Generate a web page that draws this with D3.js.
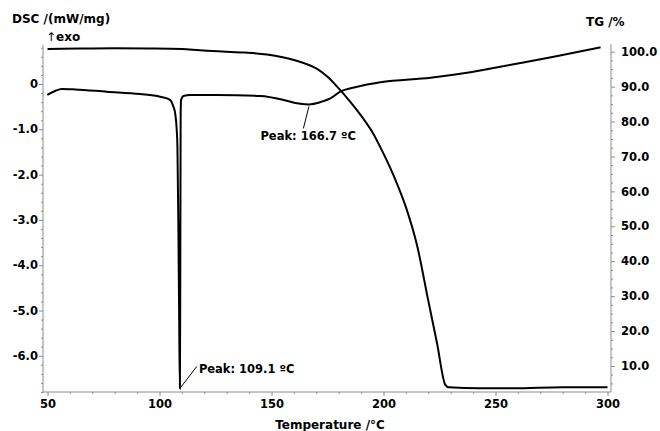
<!DOCTYPE html>
<html>
<head>
<meta charset="utf-8">
<script src="https://cdn.jsdelivr.net/npm/d3@7"></script>
<style>
  body { margin: 0; background: #fff; }
  text { font-family: "DejaVu Sans", Verdana, sans-serif; font-weight: bold; fill: #000; }
</style>
</head>
<body>
<div id="chart"></div>
<script>
// TG curve (temperature in °C, mass in %)
const tgTemp  = [50, 65, 80, 95, 110, 118, 128, 138, 148, 155, 160, 165, 170, 175, 180, 185, 190, 195, 200, 205, 210, 215, 219.9, 223.9, 227.6, 229.1, 243, 258, 280, 300];
const tgValue = [100.8, 100.9, 101.0, 100.95, 100.8, 100.4, 100.05, 99.75, 99.2, 98.4, 97.6, 96.6, 95.2, 92.8, 89.5, 85.8, 81.7, 77.0, 70.8, 63.8, 55.5, 44.5, 29.0, 16.5, 4.6, 3.9, 3.6, 3.6, 3.9, 3.9];

// DSC curve (mW/mg)
const dscTemp  = [49.9, 53.4, 56.3, 62.3, 76.5, 91.3, 100.3, 104.7, 106.2, 107.0, 107.7, 108.0, 108.4, 108.8, 109.1, 109.25, 109.35, 109.45, 109.65, 110.7, 113.7, 118.1, 125.6, 145, 155.4, 160.6, 166.7, 171.8, 176.3, 180.7, 188.2, 198.6, 221, 238.8, 258.1, 276, 296.9];
const dscValue = [-0.24, -0.155, -0.11, -0.12, -0.17, -0.22, -0.28, -0.35, -0.50, -0.65, -1.02, -1.38, -3.0, -5.3, -6.72, -4.8, -2.6, -0.65, -0.35, -0.265, -0.243, -0.243, -0.243, -0.265, -0.353, -0.42, -0.45, -0.40, -0.316, -0.17, -0.06, 0.04, 0.14, 0.26, 0.435, 0.60, 0.81];

const xTicks   = [50, 100, 150, 200, 250, 300];
const dscTicks = [0, -1, -2, -3, -4, -5, -6];
const tgTicks  = [100, 90, 80, 70, 60, 50, 40, 30, 20, 10];

const peakTemps  = [166.7, 109.1];
const peakValues = [-0.45, -6.72];
const peakLabels = ["Peak: 166.7 ºC", "Peak: 109.1 ºC"];

const width = 660, height = 431;
const plotLeft = 43, plotRight = 611, plotTop = 44, plotBottom = 392;

const x = d3.scaleLinear().domain([50, 300]).range([47.5, 607.5]);
const yDsc = d3.scaleLinear().domain([0, -6]).range([84, 355.8]);
const yTg = d3.scaleLinear().domain([10, 100]).range([366, 51.7]);

const svg = d3.select("#chart").append("svg")
    .attr("width", width)
    .attr("height", height);

// axis frame lines
const axisColor = "#8c8c8c";
svg.append("line").attr("x1", plotLeft).attr("x2", plotLeft).attr("y1", plotTop + 1).attr("y2", plotBottom).attr("stroke", axisColor);
svg.append("line").attr("x1", plotRight).attr("x2", plotRight).attr("y1", plotTop).attr("y2", plotBottom).attr("stroke", axisColor);
svg.append("line").attr("x1", plotLeft).attr("x2", plotRight).attr("y1", plotBottom).attr("y2", plotBottom).attr("stroke", axisColor);

function styleAxis(g) {
    g.select(".domain").remove();
    g.selectAll(".tick line").attr("stroke", axisColor);
    g.selectAll(".tick text").style("font-size", "11.5px").attr("fill", "#000");
}

// minor ticks
const dscMinor = d3.range(-34, 5).map(i => i / 5).filter(v => Math.round(v * 5) % 5 !== 0);
const tgMinor = d3.range(2, 41).map(i => i * 2.5).filter(v => v % 10 !== 0 && yTg(v) < plotBottom && yTg(v) > plotTop);
const xMinor = d3.range(50, 301, 10).filter(v => v % 50 !== 0);

svg.append("g").attr("transform", `translate(${plotLeft},0)`)
    .call(d3.axisLeft(yDsc).tickValues(dscMinor).tickSize(2).tickFormat(""))
    .call(styleAxis);
svg.append("g").attr("transform", `translate(${plotLeft},0)`)
    .call(d3.axisLeft(yDsc).tickValues(dscTicks).tickSize(4).tickPadding(1)
        .tickFormat(d => d === 0 ? "0" : d3.format(".1f")(d).replace("−", "-")))
    .call(styleAxis);

svg.append("g").attr("transform", `translate(${plotRight},0)`)
    .call(d3.axisRight(yTg).tickValues(tgMinor).tickSize(2).tickFormat(""))
    .call(styleAxis);
svg.append("g").attr("transform", `translate(${plotRight},0)`)
    .call(d3.axisRight(yTg).tickValues(tgTicks).tickSize(4).tickPadding(6).tickFormat(d3.format(".1f")))
    .call(styleAxis);

svg.append("g").attr("transform", `translate(0,${plotBottom})`)
    .call(d3.axisBottom(x).tickValues(xMinor).tickSize(2).tickFormat(""))
    .call(styleAxis);
svg.append("g").attr("transform", `translate(0,${plotBottom})`)
    .call(d3.axisBottom(x).tickValues(xTicks).tickSize(4).tickPadding(4))
    .call(styleAxis);

// titles
svg.append("text").attr("x", 12).attr("y", 23).style("font-size", "12px").text("DSC /(mW/mg)");
svg.append("text").attr("x", 46).attr("y", 41).style("font-size", "12px")
    .html('<tspan style="font-weight:normal">↑</tspan>exo');
svg.append("text").attr("x", 586).attr("y", 26).style("font-size", "12px").text("TG /%");
svg.append("text").attr("x", 330).attr("y", 429).attr("text-anchor", "middle").style("font-size", "12px").text("Temperature /°C");

// curves
const tgLine = d3.line()
    .x((d, i) => x(tgTemp[i]))
    .y(d => yTg(d))
    .curve(d3.curveMonotoneX);
const dscLine = d3.line()
    .x((d, i) => x(dscTemp[i]))
    .y(d => yDsc(d))
    .curve(d3.curveMonotoneX);

svg.append("path").attr("d", tgLine(tgValue))
    .attr("fill", "none").attr("stroke", "#000").attr("stroke-width", 2);
svg.append("path").attr("d", dscLine(dscValue))
    .attr("fill", "none").attr("stroke", "#000").attr("stroke-width", 2);

// peak annotations
const labelOffsets = [{dx: -5.5, dy: 22, tx: -48.5, ty: 34}, {dx: 17, dy: -22, tx: 19, ty: -15}];
peakTemps.forEach((t, i) => {
    const px = x(t), py = yDsc(peakValues[i]) + (i === 0 ? 2 : 0);
    const o = labelOffsets[i];
    svg.append("line")
        .attr("x1", px).attr("y1", py)
        .attr("x2", px + o.dx).attr("y2", py + o.dy)
        .attr("stroke", "#000").attr("stroke-width", 1);
    svg.append("text")
        .attr("x", px + o.tx).attr("y", py + o.ty)
        .style("font-size", "11.5px")
        .text(peakLabels[i]);
});
</script>
</body>
</html>
